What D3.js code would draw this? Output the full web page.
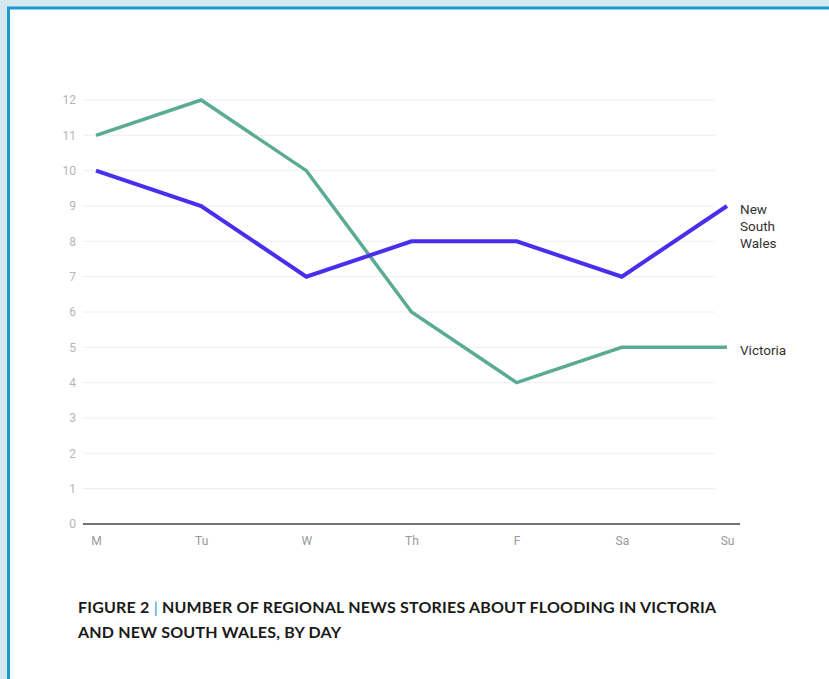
<!DOCTYPE html>
<html>
<head>
<meta charset="utf-8">
<script src="https://cdn.jsdelivr.net/npm/d3@7"></script>
<style>
  body { margin: 0; background: #d5e8ef; }
  #chart { position: absolute; left: 0; top: 0; }
</style>
</head>
<body>
<div id="chart"></div>
<script>
// days along the x axis
const days = ['M', 'Tu', 'W', 'Th', 'F', 'Sa', 'Su'];

// stories per day
const victoria = [11, 12, 10, 6, 4, 5, 5];
const nsw = [10, 9, 7, 8, 8, 7, 9];

const yTicks = [0, 1, 2, 3, 4, 5, 6, 7, 8, 9, 10, 11, 12];

const W = 829, H = 679;

const svg = d3.select('#chart')
    .append('svg')
    .attr('width', W)
    .attr('height', H);

// white card with blue frame
svg.append('rect')
    .attr('x', 8.5)
    .attr('y', 8)
    .attr('width', W + 10)
    .attr('height', H + 10)
    .attr('fill', 'white')
    .attr('stroke', '#1a9ad0')
    .attr('stroke-width', 3);

const x = d3.scalePoint()
    .domain(days)
    .range([96, 727]);

const y = d3.scaleLinear()
    .domain([0, 12])
    .range([524, 100]);

// gridlines
svg.append('g')
    .selectAll('line')
    .data(yTicks.filter(d => d > 0))
    .enter().append('line')
    .attr('x1', 83)
    .attr('x2', 715)
    .attr('y1', d => y(d))
    .attr('y2', d => y(d))
    .attr('stroke', '#eeeeee')
    .attr('stroke-width', 1);

// y axis labels
const yAxis = d3.axisLeft(y)
    .tickValues(yTicks)
    .tickSize(0)
    .tickPadding(0)
    .tickFormat(d3.format('d'));

svg.append('g')
    .attr('class', 'axis axis-y')
    .attr('transform', 'translate(76,0)')
    .call(yAxis)
    .call(g => g.select('.domain').remove())
    .selectAll('text')
    .attr('fill', '#b5b5b5')
    .attr('font-family', 'Roboto, sans-serif')
    .attr('font-size', 12);

// x axis
const xAxis = d3.axisBottom(x)
    .tickSize(0)
    .tickPadding(12);

svg.append('g')
    .attr('class', 'axis axis-x')
    .attr('transform', 'translate(0,' + y(0) + ')')
    .call(xAxis)
    .call(g => g.select('.domain').remove())
    .selectAll('text')
    .attr('fill', '#999')
    .attr('font-family', 'Roboto, sans-serif')
    .attr('font-size', 12);

svg.append('line')
    .attr('x1', 83)
    .attr('x2', 740)
    .attr('y1', y(0))
    .attr('y2', y(0))
    .attr('stroke', '#444')
    .attr('stroke-width', 1.5);

const createLine = d3.line()
    .x((d, i) => x(days[i]))
    .y(d => y(d));

svg.append('path')
    .attr('class', 'line')
    .attr('d', createLine(victoria))
    .attr('fill', 'none')
    .attr('stroke', '#5aab93')
    .attr('stroke-width', 3.5);

svg.append('path')
    .attr('class', 'line')
    .attr('d', createLine(nsw))
    .attr('fill', 'none')
    .attr('stroke', '#4a2ef0')
    .attr('stroke-width', 4);

// series labels at line ends
const labelX = x(days[days.length - 1]) + 13;

const nswLabel = svg.append('text')
    .attr('x', labelX)
    .attr('y', y(nsw[nsw.length - 1]) + 8)
    .attr('font-family', 'Roboto, sans-serif')
    .attr('font-size', 13.5)
    .attr('fill', '#333');
['New', 'South', 'Wales'].forEach((t, i) => {
    nswLabel.append('tspan')
        .attr('x', labelX)
        .attr('dy', i === 0 ? 0 : 17)
        .text(t);
});

svg.append('text')
    .attr('x', labelX)
    .attr('y', y(victoria[victoria.length - 1]) + 8)
    .attr('font-family', 'Roboto, sans-serif')
    .attr('font-size', 13.5)
    .attr('fill', '#333')
    .text('Victoria');

// caption
const caption = svg.append('text')
    .attr('x', 78)
    .attr('y', 613)
    .attr('font-family', 'Lato, sans-serif')
    .attr('font-weight', 'bold')
    .attr('font-size', 16)
    .attr('letter-spacing', 0.2)
    .attr('fill', '#1a1a1a');
caption.append('tspan').text('FIGURE 2 ');
caption.append('tspan').attr('fill', '#1a9ad0').attr('font-weight', 'normal').text('|');
caption.append('tspan').text(' NUMBER OF REGIONAL NEWS STORIES ABOUT FLOODING IN VICTORIA');

svg.append('text')
    .attr('x', 78)
    .attr('y', 638)
    .attr('font-family', 'Lato, sans-serif')
    .attr('font-weight', 'bold')
    .attr('font-size', 16)
    .attr('letter-spacing', 0.2)
    .attr('fill', '#1a1a1a')
    .text('AND NEW SOUTH WALES, BY DAY');
</script>
</body>
</html>
